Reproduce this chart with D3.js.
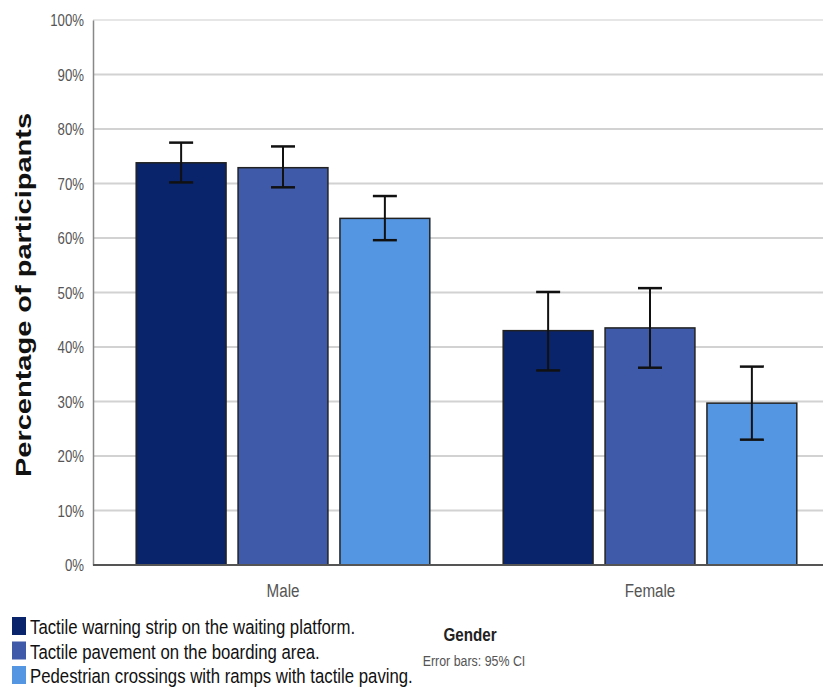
<!DOCTYPE html>
<html><head><meta charset="utf-8">
<script src="https://cdn.jsdelivr.net/npm/d3@7"></script>
<style>body{margin:0;background:#fff}</style>
</head><body>
<script>
const groups = ["Male","Female"];
const series = ["Tactile warning strip on the waiting platform.","Tactile pavement on the boarding area.","Pedestrian crossings with ramps with tactile paving."];
const colors = ["#0a246c","#3f5aa8","#5596e3"];
const values = [[73.8,72.9,63.6],[43.0,43.5,29.7]];
const ciLow  = [[70.2,69.3,59.6],[35.7,36.2,23.0]];
const ciHigh = [[77.5,76.8,67.7],[50.1,50.8,36.4]];
const yTicks = [0,10,20,30,40,50,60,70,80,90,100];

const W=823,H=690;
const NX=0.8; // horizontal condensing to mimic a narrow font
const svg=d3.select("body").append("svg").attr("width",W).attr("height",H);
const font="'Liberation Sans',Arial,sans-serif";
const y=d3.scaleLinear().domain([0,100]).range([565,20]);
const x0=d3.scaleBand().domain(groups).range([99.5,833.5]).paddingInner(0.2).paddingOuter(0.1);
const x1=d3.scaleBand().domain(d3.range(series.length)).range([0,x0.bandwidth()]).paddingInner(0.118);
const axisX=93;

function narrowLabel(x,yy,txt,size,opts={}){
  const g=svg.append("g").attr("transform",`translate(${x},${yy}) scale(${opts.nx||NX},1)`);
  return g.append("text").attr("font-family",font).attr("font-size",size)
    .attr("text-anchor",opts.anchor||"start").attr("font-weight",opts.weight||"normal")
    .attr("fill",opts.fill||"#111").text(txt);
}

// gridlines
svg.append("g").selectAll("line").data(yTicks.filter(d=>d>0)).join("line")
  .attr("x1",axisX).attr("x2",W).attr("y1",d=>y(d)).attr("y2",d=>y(d))
  .attr("stroke",d=>d===100?"#e6e6e6":"#d2d2d2").attr("stroke-width",2);

// y axis
const ya=svg.append("g").attr("transform",`translate(${axisX},0)`)
  .call(d3.axisLeft(y).tickValues(yTicks).tickFormat(d=>d+"%").tickSize(0).tickPadding(9));
ya.select(".domain").attr("stroke","#888").attr("stroke-width",1.5);
ya.selectAll("text").attr("font-family",font).attr("font-size",16.5).attr("fill","#555")
  .attr("transform",`scale(${NX},1)`).attr("x",-9/NX).attr("dy","0.36em");

// bars
const g=svg.append("g").selectAll("g").data(groups).join("g")
  .attr("transform",d=>`translate(${x0(d)},0)`);
g.each(function(grp,gi){
  const sel=d3.select(this);
  series.forEach((s,si)=>{
    sel.append("rect").attr("x",x1(si)).attr("width",x1.bandwidth())
      .attr("y",y(values[gi][si])).attr("height",y(0)-y(values[gi][si]))
      .attr("fill",colors[si]).attr("stroke","#222").attr("stroke-width",1.5);
  });
  series.forEach((s,si)=>{
    const cx=x1(si)+x1.bandwidth()/2;
    sel.append("line").attr("x1",cx).attr("x2",cx).attr("y1",y(ciLow[gi][si])).attr("y2",y(ciHigh[gi][si]))
      .attr("stroke","#111").attr("stroke-width",2);
    [ciLow[gi][si],ciHigh[gi][si]].forEach(v=>{
      sel.append("line").attr("x1",cx-12).attr("x2",cx+12).attr("y1",y(v)).attr("y2",y(v))
        .attr("stroke","#111").attr("stroke-width",2.5);
    });
  });
});

// x axis
const xa=svg.append("g").attr("transform",`translate(0,${y(0)})`)
  .call(d3.axisBottom(x0).tickSize(0).tickPadding(13));
xa.select(".domain").remove();
xa.selectAll("text").attr("font-family",font).attr("font-size",19).attr("fill","#555")
  .attr("transform",`scale(${NX},1)`).attr("dy","1.0em");
svg.append("line").attr("x1",axisX).attr("x2",W).attr("y1",y(0)).attr("y2",y(0)).attr("stroke","#555").attr("stroke-width",2);

// y title
svg.append("text").attr("transform","translate(31,295) rotate(-90)").attr("text-anchor","middle")
  .attr("font-family",font).attr("font-weight","bold").attr("font-size",22)
  .attr("textLength",364).attr("lengthAdjust","spacingAndGlyphs")
  .attr("fill","#111").text("Percentage of participants");

// legend
series.forEach((s,i)=>{
  const base=634+i*24.5;
  svg.append("rect").attr("x",12).attr("y",base-17).attr("width",14).attr("height",18).attr("fill",colors[i]);
  narrowLabel(30,base,s,19.5,{nx:0.86});
});
narrowLabel(470,641,"Gender",19,{anchor:"middle",weight:"bold",fill:"#222"});
narrowLabel(474,666,"Error bars: 95% CI",15.5,{anchor:"middle",fill:"#555"});
</script>
</body></html>
